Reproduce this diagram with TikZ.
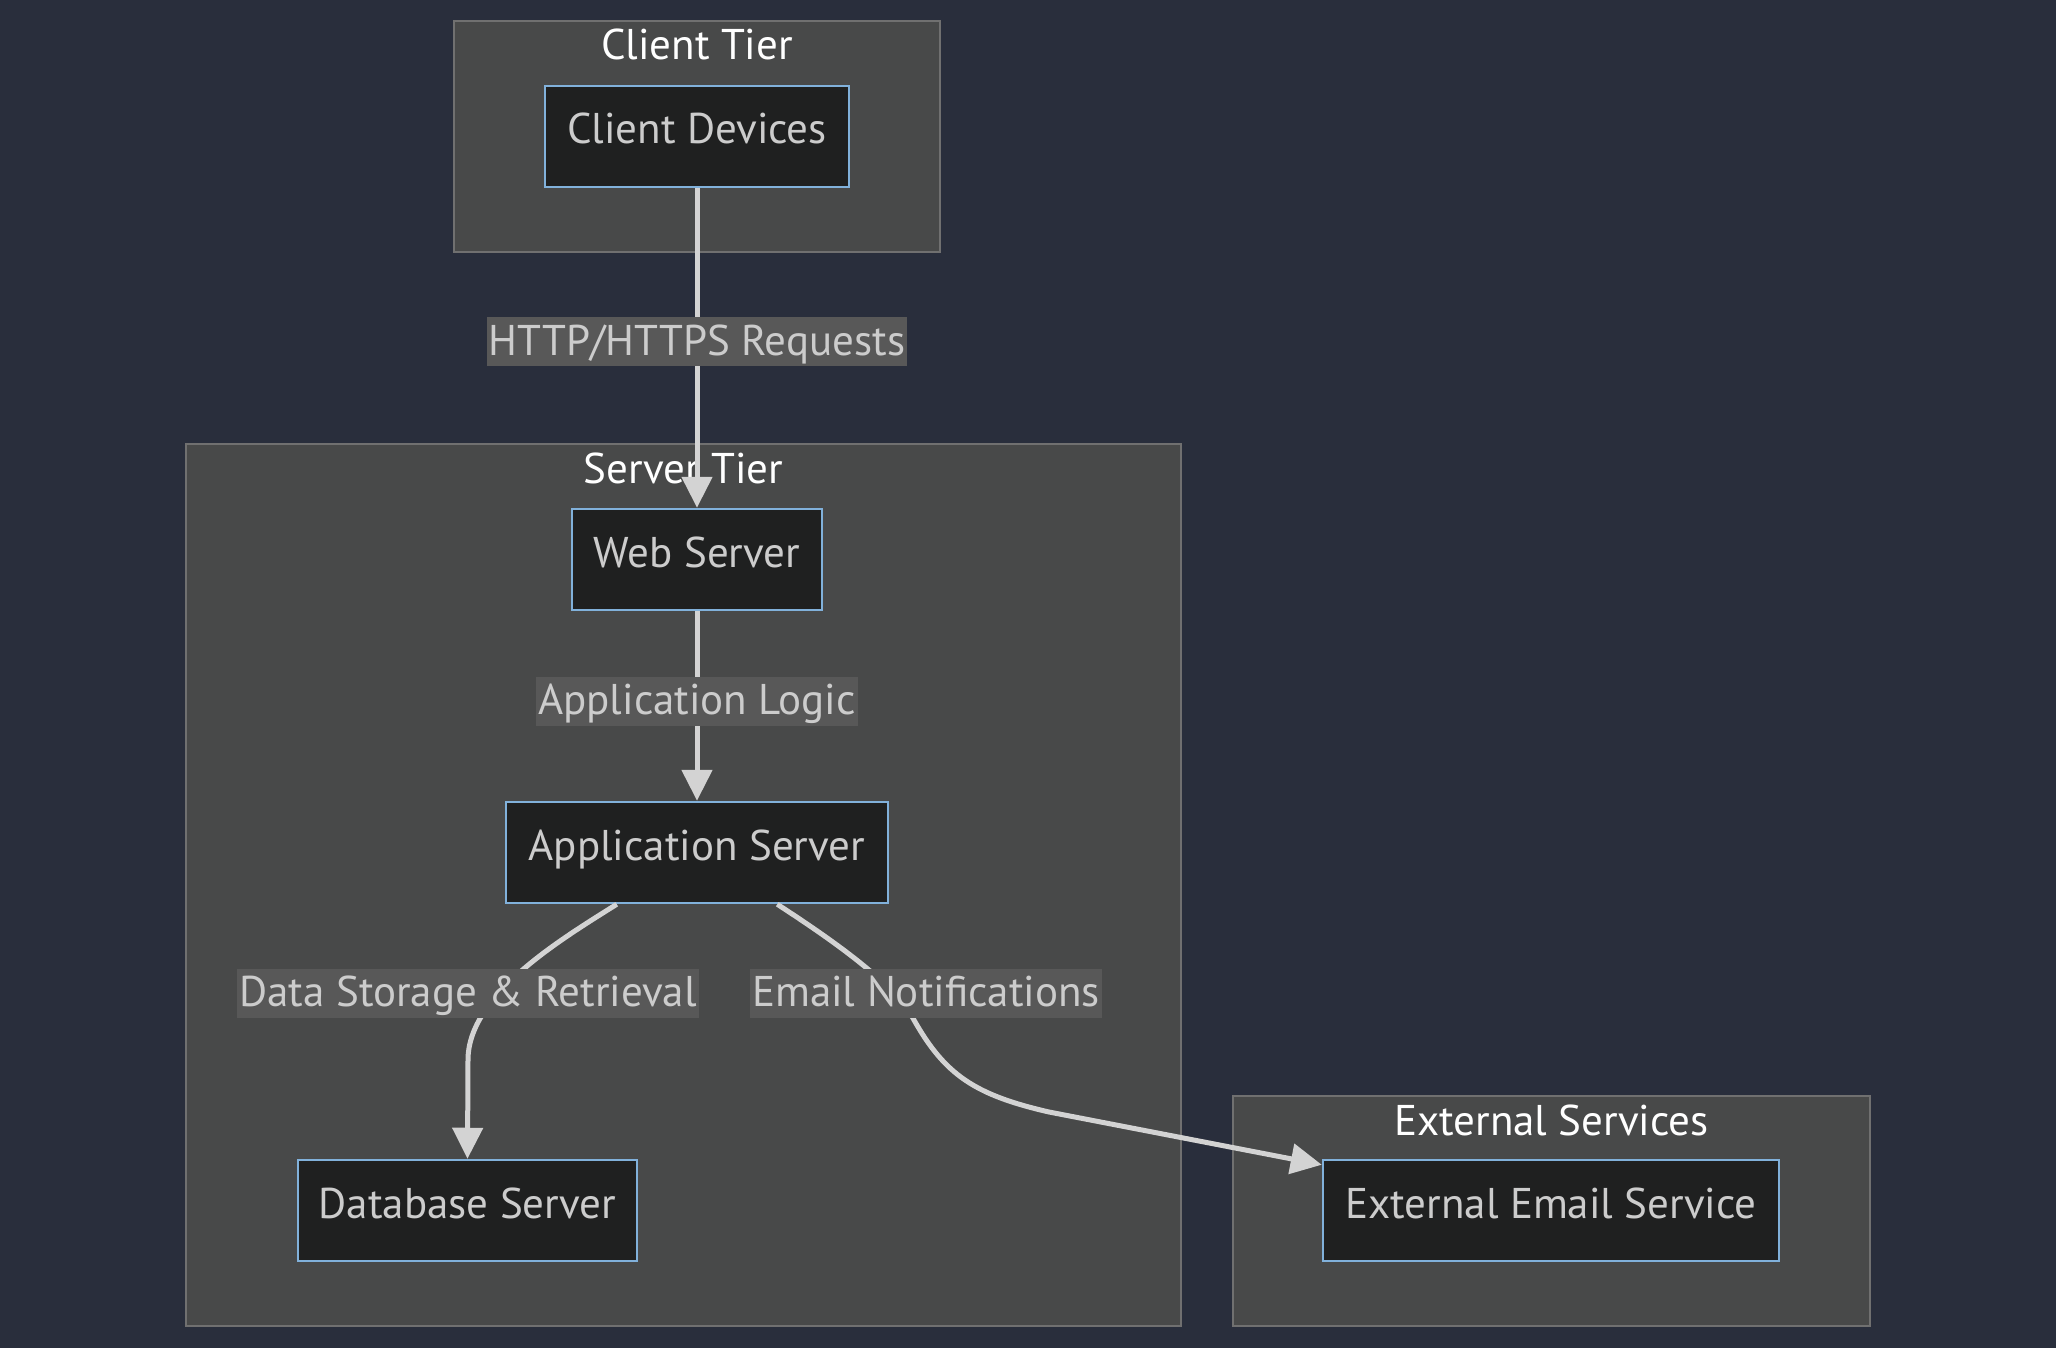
\documentclass[tikz,border=0pt]{standalone}
\usepackage{fontspec}
\setmainfont{PT Sans}
\usetikzlibrary{arrows.meta}
\definecolor{bgc}{RGB}{41,46,60}
\definecolor{clfill}{RGB}{72,73,73}
\definecolor{clline}{RGB}{112,112,112}
\definecolor{ndfill}{RGB}{31,32,32}
\definecolor{ndline}{RGB}{129,177,219}
\definecolor{ndtext}{RGB}{204,204,204}
\definecolor{edgec}{RGB}{211,211,211}
\definecolor{lblfill}{RGB}{88,88,88}
\begin{document}
\begin{tikzpicture}[x=1pt,y=-1pt,
  every node/.style={font=\fontsize{43}{51}\selectfont},
  cluster/.style={draw=clline,fill=clfill,line width=2.5pt},
  ctitle/.style={text=white,anchor=base,inner sep=0pt},
  box/.style={draw=ndline,fill=ndfill,line width=2.5pt,text=ndtext,
    inner sep=0pt,minimum height=101pt,text height=40pt,text depth=25pt},
  elabel/.style={fill=lblfill,text=ndtext,inner xsep=2pt,inner ysep=0pt,
    text height=38pt,text depth=11pt},
  flow/.style={draw=edgec,line width=5pt,-{Triangle[length=31pt,width=30pt]}}]

% canvas
\fill[bgc] (0,0) rectangle (2056,1348);
\useasboundingbox (0,0) rectangle (2056,1348);

% tier frames and their titles
\draw[cluster] (454,21) rectangle (940,252);
\node[ctitle] (tclient) at (697,60) {Client Tier};
\draw[cluster] (186,444) rectangle (1181,1326);
\node[ctitle] (tserver) at (683.5,483) {Server Tier};
\draw[cluster] (1233,1096) rectangle (1870,1326);
\node[ctitle] (text) at (1551.5,1135) {External Services};

% components
\node[box,minimum width=304pt] (cd) at (697,136.5) {Client Devices};
\node[box,minimum width=250pt] (ws) at (697,559.5) {Web Server};
\node[box,minimum width=382pt] (as) at (697,852.5) {Application Server};
\node[box,minimum width=339pt] (db) at (467.5,1210.5) {Database Server};
\node[box,minimum width=456pt] (ees) at (1551,1210.5) {External Email Service};

% connections
\draw[flow] (cd.south) -- (ws.north);
\draw[flow] (ws.south) -- (as.north);
\draw[flow] ([xshift=112pt]as.south west) .. controls (560,940) and (468,995) .. (468,1060) -- (db.north);
\draw[flow] ([xshift=-112pt]as.south east) .. controls (840,945) and (895,985) .. (914,1020)
  .. controls (945,1075) and (975,1095) .. (1049,1112) -- ([yshift=-6pt]ees.north west);

% connection labels
\node[elabel] (l1) at (697,341.5) {HTTP/HTTPS Requests};
\node[elabel] (l2) at (697,701) {Application Logic};
\node[elabel] (l3) at (468,993) {Data Storage \& Retrieval};
\node[elabel] (l4) at (926,993) {Email Notifications};
\end{tikzpicture}
\end{document}
